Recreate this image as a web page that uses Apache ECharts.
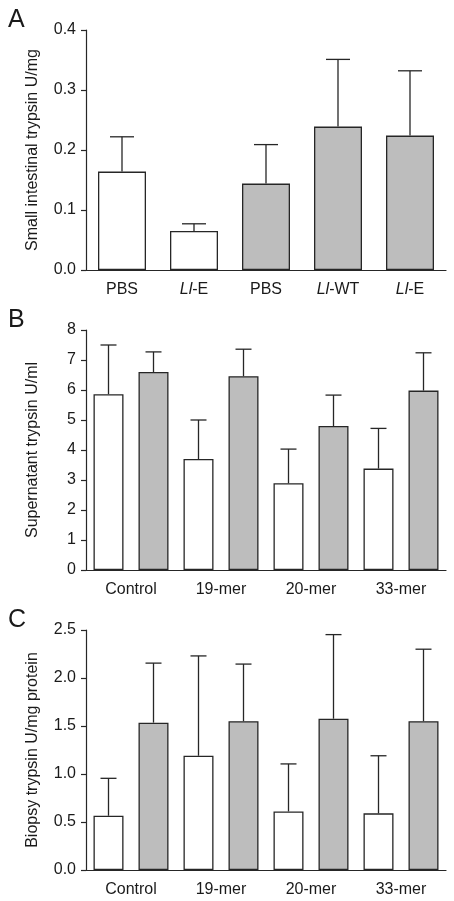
<!DOCTYPE html>
<html>
<head>
<meta charset="utf-8">
<script src="https://cdn.jsdelivr.net/npm/echarts@6/dist/echarts.min.js"></script>
<style>
html,body{margin:0;padding:0;background:#fff;}
#chart{width:454px;height:901px;}
</style>
</head>
<body>
<div id="chart"></div>
<script>
// ---- Data ----
var catsA = ['PBS', 'Ll-E', 'PBS', 'Ll-WT', 'Ll-E'];
var fillA = ['white', 'white', 'grey', 'grey', 'grey'];
var meanA = [0.164, 0.065, 0.144, 0.239, 0.224];
var errTopA = [0.222, 0.077, 0.209, 0.351, 0.332];

var catsBC = ['Control', '19-mer', '20-mer', '33-mer'];

var meanB_white = [5.86, 3.70, 2.89, 3.38];
var errTopB_white = [7.50, 5.00, 4.03, 4.72];
var meanB_grey = [6.60, 6.46, 4.80, 5.98];
var errTopB_grey = [7.27, 7.36, 5.83, 7.24];

var meanC_white = [0.565, 1.19, 0.61, 0.59];
var errTopC_white = [0.955, 2.23, 1.105, 1.19];
var meanC_grey = [1.535, 1.55, 1.576, 1.55];
var errTopC_grey = [2.155, 2.145, 2.452, 2.30];

var ticksA = {min: 0, max: 0.4, interval: 0.1, digits: 1};
var ticksB = {min: 0, max: 8, interval: 1, digits: 0};
var ticksC = {min: 0, max: 2.5, interval: 0.5, digits: 1};

// ---- Styles ----
var INK = '#262626';
var TXT = '#1a1a1a';
var WHITE = '#ffffff';
var GREY = '#bdbdbd';
var FONT = '"Liberation Sans", Arial, Helvetica, sans-serif';
var FS = 16;

function xAxis(gi, cats, rich) {
  return {
    type: 'category', gridIndex: gi, data: cats,
    axisLine: {lineStyle: {color: INK, width: 1.2}},
    axisTick: {alignWithLabel: true, length: 5, lineStyle: {color: INK, width: 1.2}},
    axisLabel: {
      interval: 0,
      color: TXT, fontSize: FS, fontFamily: FONT, margin: 12,
      formatter: rich ? function (v) { return v.replace('Ll', '{i|Ll}'); } : null,
      rich: rich ? {i: {fontStyle: 'italic', fontSize: FS, fontFamily: FONT, color: TXT}} : undefined
    }
  };
}
function yAxis(gi, t, name) {
  return {
    type: 'value', gridIndex: gi, min: t.min, max: t.max, interval: t.interval,
    name: name, nameLocation: 'middle', nameGap: 45,
    nameTextStyle: {color: TXT, fontSize: FS, fontFamily: FONT},
    splitLine: {show: false},
    axisLine: {show: true, lineStyle: {color: INK, width: 1.2}},
    axisTick: {show: true, length: 5, lineStyle: {color: INK, width: 1.2}},
    axisLabel: {color: TXT, fontSize: FS, fontFamily: FONT, margin: 10,
      formatter: function (v) { return v.toFixed(t.digits); }}
  };
}

function errSeries(gi, means, tops, offset, capHalf) {
  var data = means.map(function (m, i) { return [i, m, tops[i]]; });
  return {
    type: 'custom', xAxisIndex: gi, yAxisIndex: gi, z: 5, silent: true,
    data: data,
    renderItem: function (params, api) {
      var i = api.value(0);
      var p0 = api.coord([i, api.value(1)]);
      var p1 = api.coord([i, api.value(2)]);
      var x = p0[0] + offset;
      var st = {stroke: INK, lineWidth: 1.3};
      return {type: 'group', children: [
        {type: 'line', shape: {x1: x, y1: p0[1], x2: x, y2: p1[1]}, style: st},
        {type: 'line', shape: {x1: x - capHalf, y1: p1[1], x2: x + capHalf, y2: p1[1]}, style: st}
      ]};
    }
  };
}

function barItem(v, c) {
  return {value: v, itemStyle: {color: c === 'grey' ? GREY : WHITE}};
}

var barStyle = {borderColor: INK, borderWidth: 1.3};
var letterStyle = {fontSize: 25, fontWeight: 'normal', color: TXT, fontFamily: FONT};

var option = {
  animation: false,
  backgroundColor: '#fff',
  title: [
    {text: 'A', left: 3, top: 3, textStyle: letterStyle},
    {text: 'B', left: 3, top: 303, textStyle: letterStyle},
    {text: 'C', left: 3, top: 603, textStyle: letterStyle}
  ],
  grid: [
    {left: 86, width: 360, top: 30, height: 240},
    {left: 86, width: 360, top: 330, height: 240},
    {left: 86, width: 360, top: 630, height: 240}
  ],
  xAxis: [xAxis(0, catsA, true), xAxis(1, catsBC, false), xAxis(2, catsBC, false)],
  yAxis: [
    yAxis(0, ticksA, 'Small intestinal trypsin U/mg'),
    yAxis(1, ticksB, 'Supernatant trypsin U/ml'),
    yAxis(2, ticksC, 'Biopsy trypsin U/mg protein')
  ],
  series: [
    {type: 'bar', xAxisIndex: 0, yAxisIndex: 0, barWidth: 48, itemStyle: barStyle,
      data: meanA.map(function (v, i) { return barItem(v, fillA[i]); })},
    errSeries(0, meanA, errTopA, 0, 12),

    {type: 'bar', xAxisIndex: 1, yAxisIndex: 1, barWidth: 30, barGap: '50%',
      itemStyle: {color: WHITE, borderColor: INK, borderWidth: 1.3}, data: meanB_white},
    {type: 'bar', xAxisIndex: 1, yAxisIndex: 1, barWidth: 30, barGap: '50%',
      itemStyle: {color: GREY, borderColor: INK, borderWidth: 1.3}, data: meanB_grey},
    errSeries(1, meanB_white, errTopB_white, -22.5, 8),
    errSeries(1, meanB_grey, errTopB_grey, 22.5, 8),

    {type: 'bar', xAxisIndex: 2, yAxisIndex: 2, barWidth: 30, barGap: '50%',
      itemStyle: {color: WHITE, borderColor: INK, borderWidth: 1.3}, data: meanC_white},
    {type: 'bar', xAxisIndex: 2, yAxisIndex: 2, barWidth: 30, barGap: '50%',
      itemStyle: {color: GREY, borderColor: INK, borderWidth: 1.3}, data: meanC_grey},
    errSeries(2, meanC_white, errTopC_white, -22.5, 8),
    errSeries(2, meanC_grey, errTopC_grey, 22.5, 8)
  ]
};

var chart = echarts.init(document.getElementById('chart'), null, {renderer: 'canvas'});
chart.setOption(option);
</script>
</body>
</html>
